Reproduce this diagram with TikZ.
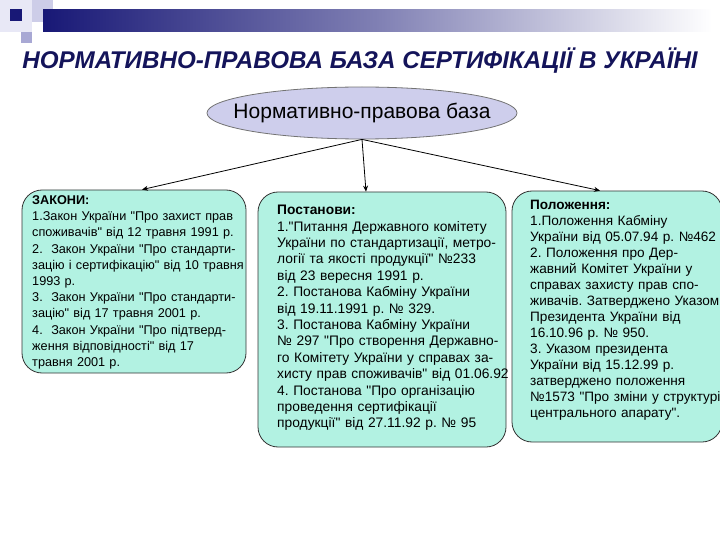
\documentclass[tikz,border=0pt]{standalone}
\usepackage{fontspec}
\setmainfont{Liberation Sans}[Ligatures=TeXOff]
\usetikzlibrary{shapes.geometric,arrows.meta}
\definecolor{boxfill}{RGB}{178,242,226}
\definecolor{lav}{RGB}{206,206,236}
\definecolor{titlecol}{RGB}{20,20,90}
\definecolor{navy}{RGB}{24,24,118}
\definecolor{lightsq}{RGB}{205,205,232}
\definecolor{midsq}{RGB}{168,168,212}
\definecolor{palesq}{RGB}{232,232,246}
\tikzset{
  box/.style={draw=black!80, line width=0.8pt, fill=boxfill, rounded corners=20pt, inner sep=0pt},
  txt/.style={anchor=north west, inner sep=0pt, text width=320pt, align=left},
  arr/.style={draw=black, line width=0.8pt, -{Stealth[length=6pt,width=5pt]}},
}
\begin{document}
\frenchspacing
\begin{tikzpicture}[x=1pt,y=-1pt]
\useasboundingbox (0,0) rectangle (720,540);
\clip (0,0) rectangle (720,540);
% top-left decoration
\fill[palesq] (0,0) rectangle (32,32);
\fill[lightsq] (32,0) rectangle (53,22);
\fill[midsq] (21,32) rectangle (32,43);
\shade[left color=navy, right color=white, middle color=navy!55!white, shading angle=90] (43,10) rectangle (712,32);
\fill[navy] (10,9) rectangle (22,21);
% title
\node[font=\fontsize{24.2}{28}\selectfont\bfseries\itshape, text=titlecol, inner sep=0pt] (title) at (360,61) {НОРМАТИВНО-ПРАВОВА БАЗА СЕРТИФІКАЦІЇ В УКРАЇНІ};
% ellipse
\node[ellipse, draw=black!55, line width=0.8pt, fill=lav, minimum width=310pt, minimum height=52pt, inner sep=0pt] (e) at (362,113) {};
\node[font=\fontsize{21}{24}\selectfont, inner sep=0pt] (et) at (e.center) {Нормативно-правова база};
% boxes
\node[box, minimum width=224pt, minimum height=183pt] (b1) at (134,281.5) {};
\node[box, minimum width=248pt, minimum height=255pt] (b2) at (382,319.5) {};
\node[box, minimum width=210pt, minimum height=251pt] (b3) at (617,316.5) {};
% arrows
\draw[arr] (e.south) -- ([xshift=8pt]b1.north);
\draw[arr] (e.south) -- ([xshift=-16pt]b2.north);
\draw[arr] (e.south) -- ([xshift=-17pt]b3.north);
% texts
\node[txt, font=\fontsize{12.7}{16.2}\selectfont] (t1) at (32,195.4) {%
\textbf{ЗАКОНИ:}\\
1.Закон України "Про захист прав\\
споживачів" від 12 травня 1991 р.\\
2.\ \ Закон України "Про стандарти-\\
зацію і сертифікацію" від 10 травня\\
1993 р.\\
3.\ \ Закон України "Про стандарти-\\
зацію" від 17 травня 2001 р.\\
4.\ \ Закон України "Про підтверд-\\
ження відповідності" від 17\\
травня 2001 р.};
\node[txt, font=\fontsize{13.8}{16.4}\selectfont] (t2) at (277,205) {%
\textbf{Постанови:}\\
1."Питання Державного комітету\\
України по стандартизації, метро-\\
логії та якості продукції" №233\\
від 23 вересня 1991 р.\\
2. Постанова Кабміну України\\
від 19.11.1991 р. № 329.\\
3. Постанова Кабміну України\\
№ 297 "Про створення Державно-\\
го Комітету України у справах за-\\
хисту прав споживачів" від 01.06.92\\
4. Постанова "Про організацію\\
проведення сертифікації\\
продукції" від 27.11.92 р. № 95};
\node[txt, font=\fontsize{13.6}{16}\selectfont] (t3) at (530,200) {%
\textbf{Положення:}\\
1.Положення Кабміну\\
України від 05.07.94 р. №462\\
2. Положення про Дер-\\
жавний Комітет України у\\
справах захисту прав спо-\\
живачів. Затверджено Указом\\
Президента України від\\
16.10.96 р. № 950.\\
3. Указом президента\\
України від 15.12.99 р.\\
затверджено положення\\
№1573 "Про зміни у структурі\\
центрального апарату".};
\end{tikzpicture}
\end{document}
